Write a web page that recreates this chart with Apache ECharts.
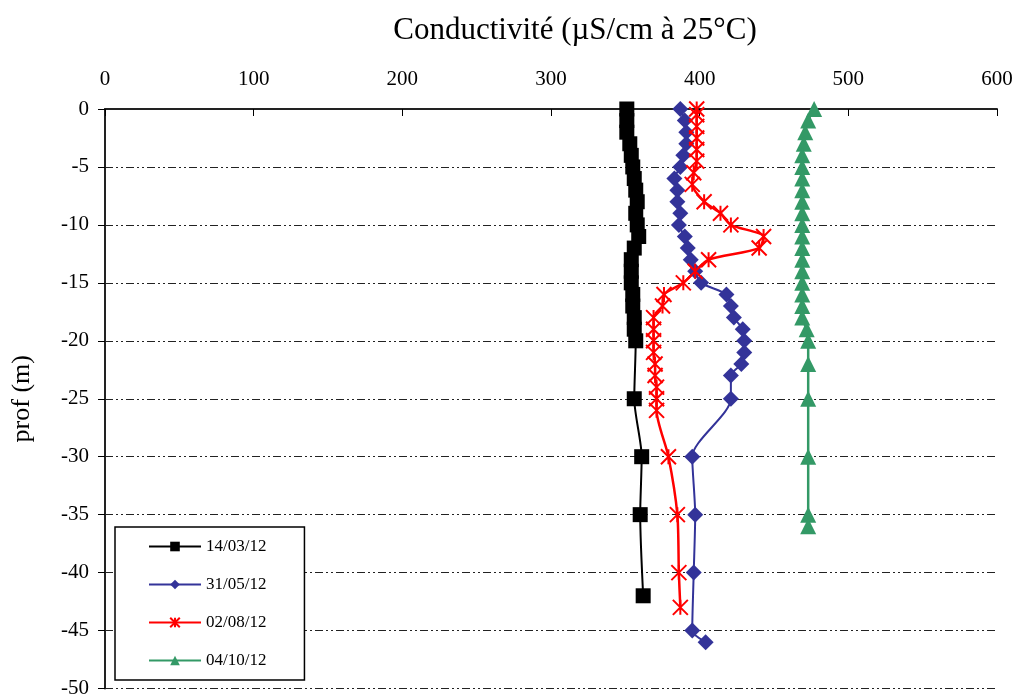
<!DOCTYPE html>
<html>
<head>
<meta charset="utf-8">
<script src="https://cdn.jsdelivr.net/npm/echarts@6/dist/echarts.min.js"></script>
<style>
  html, body { margin: 0; padding: 0; background: #fff; }
  #chart { width: 1019px; height: 699px; }
</style>
</head>
<body>
<div id="chart"></div>
<script>
// conductivity (µS/cm) vs depth (m)
const seriesNames = ['14/03/12', '31/05/12', '02/08/12', '04/10/12']

const depth1403 = [0, -1, -2, -3, -4, -5, -6, -7, -8, -9, -10, -11, -12, -13, -14, -15, -16, -17, -18, -19, -20, -25, -30, -35, -42]
const cond1403 = [351, 351, 351, 353, 354, 355, 356, 357, 358, 357, 358, 359, 356, 354, 354, 354, 355, 355, 356, 356, 357, 356, 361, 360, 362]

const depth3105 = [0, -1, -2, -3, -4, -5, -6, -7, -8, -9, -10, -11, -12, -13, -14, -15, -16, -17, -18, -19, -20, -21, -22, -23, -25, -30, -35, -40, -45, -46]
const cond3105 = [387, 390, 391, 391, 389, 387, 383, 385, 385, 387, 386, 390, 392, 394, 397, 401, 418, 421, 423, 429, 430, 430, 428, 421, 421, 395, 397, 396, 395, 404]

const depth0208 = [0, -0.5, -1.5, -2.5, -3.5, -4.5, -5.5, -6.5, -8, -9, -10, -11, -12, -13, -14, -15, -16, -17, -18, -19, -20, -21, -22, -23, -24, -25, -26, -30, -35, -40, -43]
const cond0208 = [398, 398, 398, 398, 398, 398, 396, 395, 403, 414, 421, 443, 440, 406, 397, 389, 376, 375, 369, 369, 369, 369, 370, 370, 371, 371, 371, 379, 385, 386, 387]

const depth0410 = [0, -1, -2, -3, -4, -5, -6, -7, -8, -9, -10, -11, -12, -13, -14, -15, -16, -17, -18, -19, -20, -22, -25, -30, -35, -36]
const cond0410 = [477, 473, 471, 470, 469, 469, 469, 469, 469, 469, 469, 469, 469, 469, 469, 469, 469, 469, 469, 472, 473, 473, 473, 473, 473, 473]

const xTicks = { min: 0, max: 600, step: 100 }
const yTicks = { min: -50, max: 0, step: 5 }

const font = 'Liberation Serif'

function pairs(xs, ys) {
  return xs.map((x, i) => [x, ys[i]])
}

const diamond = 'path://M0,-1L1,0L0,1L-1,0Z'
const asterisk = 'path://M-1,-1L1,1M1,-1L-1,1M0,-1L0,1'

const myChart = echarts.init(document.getElementById('chart'))

const option = {
  animation: false,
  backgroundColor: '#fff',
  title: {
    text: 'Conductivité (µS/cm à 25°C)',
    left: 570,
    textAlign: 'center',
    top: 10,
    textStyle: { fontFamily: font, fontSize: 31, fontWeight: 'normal', color: '#000' },
  },
  grid: { left: 105, right: 22, top: 109, bottom: 9 },
  legend: {
    orient: 'vertical',
    left: 115,
    top: 527,
    padding: [11, 38, 11, 33],
    itemGap: 21,
    itemWidth: 52,
    itemHeight: 12,
    backgroundColor: '#fff',
    borderColor: '#000',
    borderWidth: 1.5,
    textStyle: { fontFamily: font, fontSize: 17, color: '#000' },
    data: seriesNames,
  },
  xAxis: {
    type: 'value',
    position: 'top',
    min: xTicks.min,
    max: xTicks.max,
    interval: xTicks.step,
    axisLine: { show: true, lineStyle: { color: '#222', width: 2 } },
    axisTick: { show: true, inside: true, length: 7, lineStyle: { color: '#000' } },
    axisLabel: { fontFamily: font, fontSize: 21, color: '#000', margin: 19 },
    splitLine: { show: false },
  },
  yAxis: {
    type: 'value',
    min: yTicks.min,
    max: yTicks.max,
    interval: yTicks.step,
    name: 'prof (m)',
    nameLocation: 'middle',
    nameGap: 70,
    nameTextStyle: { fontFamily: font, fontSize: 26, color: '#000' },
    axisLine: { show: true, onZero: false, lineStyle: { color: '#222', width: 2 } },
    axisTick: { show: true, inside: false, length: 7, lineStyle: { color: '#000' } },
    axisLabel: { fontFamily: font, fontSize: 21, color: '#000', margin: 16 },
    splitLine: {
      show: true,
      lineStyle: { color: '#222', width: 1, type: [8, 3, 2, 3, 2, 3] },
    },
  },
  series: [
    {
      name: seriesNames[0],
      type: 'line',
      smooth: 0.25,
      data: pairs(cond1403, depth1403),
      symbol: 'rect',
      symbolSize: 15,
      lineStyle: { color: '#000', width: 2 },
      itemStyle: { color: '#000' },
    },
    {
      name: seriesNames[1],
      type: 'line',
      smooth: 0.25,
      data: pairs(cond3105, depth3105),
      symbol: diamond,
      symbolSize: 16,
      lineStyle: { color: '#333399', width: 2 },
      itemStyle: { color: '#333399' },
    },
    {
      name: seriesNames[2],
      type: 'line',
      smooth: 0.25,
      data: pairs(cond0208, depth0208),
      symbol: asterisk,
      symbolSize: 15,
      lineStyle: { color: '#ff0000', width: 2.5 },
      itemStyle: { color: 'rgba(0,0,0,0)', borderColor: '#ff0000', borderWidth: 2 },
    },
    {
      name: seriesNames[3],
      type: 'line',
      smooth: 0.25,
      data: pairs(cond0410, depth0410),
      symbol: 'triangle',
      symbolSize: 16,
      lineStyle: { color: '#339966', width: 2.5 },
      itemStyle: { color: '#339966' },
    },
  ],
}

myChart.setOption(option)
</script>
</body>
</html>
